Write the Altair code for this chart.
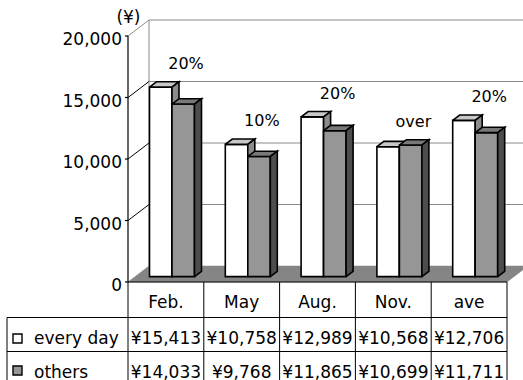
import altair as alt
import pandas as pd

# ---- data ---------------------------------------------------------------
categories = ["Feb.", "May", "Aug.", "Nov.", "ave"]
every_day = [15413, 10758, 12989, 10568, 12706]
others = [14033, 9768, 11865, 10699, 11711]
series_names = ["every day", "others"]
notes = ["20%", "10%", "20%", "over", "20%"]
value_ticks = [0, 5000, 10000, 15000, 20000]
unit_text = "(¥)"

# ---- layout (pixels) ----------------------------------------------------
W, H = 523, 380
AXIS_PX = 128.0          # x of the value axis / front-left corner
FLOOR_PX = 282.0         # y of the front floor edge (value 0)
SLOT_PX = 75.8           # width of one category column
PX_PER_YEN = 61.5 / 5000
DEPTH_RIGHT_PX = 21.0    # oblique depth of the box
DEPTH_UP_PX = 16.0
TABLE_LEFT_PX = 7.0
ROW_TOPS_PX = [282.0, 317.5, 351.5, 386.0]
FONT = "DejaVu Sans"
EDGE_W = 1.6             # outline width of the bar faces


def to_x(px):
    return (px - AXIS_PX) / SLOT_PX


def to_y(py):
    return (FLOOR_PX - py) / PX_PER_YEN


N = len(categories)
TOP = value_ticks[-1]
DX = DEPTH_RIGHT_PX / SLOT_PX
DY = DEPTH_UP_PX / PX_PER_YEN
D1X, D1Y = DX / 3, DY / 3          # bars occupy the middle third of the depth
D2X, D2Y = 2 * DX / 3, 2 * DY / 3
BAR_LEFT = 14.5 / SLOT_PX
BAR_W = 22.5 / SLOT_PX

x_scale = alt.Scale(domain=[to_x(0), to_x(W)], nice=False, zero=False)
y_scale = alt.Scale(domain=[to_y(H), to_y(0)], nice=False, zero=False)


def X(f):
    return alt.X(f, type="quantitative", scale=x_scale, axis=None)


def Y(f):
    return alt.Y(f, type="quantitative", scale=y_scale, axis=None)


def rules(df, width=1.0):
    return alt.Chart(df).mark_rule(strokeWidth=width).encode(
        x=X("x"), x2=alt.X2("x2"), y=Y("y"), y2=alt.Y2("y2"),
        stroke=alt.Stroke("c:N", scale=None),
    )


def polygons(shapes, fill, stroke, width=EDGE_W):
    """shapes: list of vertex lists [(x, y), ...]; each drawn as a closed, filled path."""
    rows = []
    for f, pts in enumerate(shapes):
        for k, (x, y) in enumerate(list(pts) + [pts[0]]):
            rows.append(dict(f=f, k=k, x=x, y=y))
    return alt.Chart(pd.DataFrame(rows)).mark_line(
        fill=fill, stroke=stroke, strokeWidth=width, strokeJoin="miter"
    ).encode(x=X("x"), y=Y("y"), detail="f:N", order="k:Q")


layers = []

# floor of the box
layers.append(polygons([[(0, 0), (N, 0), (N + DX, DY), (DX, DY)]],
                       "#858585", "#858585", 0.5))

# back wall gridlines, back-left edge, side-wall tick diagonals
wall_rows = []
for t in value_ticks[1:]:
    wall_rows.append(dict(x=DX, x2=N + DX, y=t + DY, y2=t + DY, c="#8a8a8a"))
wall_rows.append(dict(x=DX, x2=DX, y=DY, y2=TOP + DY, c="#8a8a8a"))
for t in value_ticks[1:]:
    wall_rows.append(dict(x=0, x2=DX, y=t, y2=t + DY,
                          c="#8a8a8a" if t == TOP else "#000000"))
layers.append(rules(pd.DataFrame(wall_rows)))

# value axis line and outer tick stubs
axis_rows = [dict(x=0, x2=0, y=0, y2=TOP, c="#000000")]
for t in value_ticks:
    axis_rows.append(dict(x=to_x(AXIS_PX - 3), x2=0, y=t, y2=t, c="#000000"))
layers.append(rules(pd.DataFrame(axis_rows), 1.2))

# 3-D bars: front, top and side faces, painted series by series
face_colors = [("#ffffff", "#c8c8c8", "#8c8c8c"),
               ("#969696", "#787878", "#4d4d4d")]
for j, vals in enumerate([every_day, others]):
    front, top, side = [], [], []
    for i, v in enumerate(vals):
        xl = i + BAR_LEFT + j * BAR_W
        xr = xl + BAR_W
        front.append(dict(x=xl + D1X, x2=xr + D1X, y=D1Y, y2=v + D1Y))
        top.append([(xl + D1X, v + D1Y), (xr + D1X, v + D1Y),
                    (xr + D2X, v + D2Y), (xl + D2X, v + D2Y)])
        side.append([(xr + D1X, D1Y), (xr + D2X, D2Y),
                     (xr + D2X, v + D2Y), (xr + D1X, v + D1Y)])
    fc, tc, sc = face_colors[j]
    layers.append(
        alt.Chart(pd.DataFrame(front)).mark_rect(
            fill=fc, stroke="#000000", strokeWidth=EDGE_W
        ).encode(x=X("x"), x2=alt.X2("x2"), y=Y("y"), y2=alt.Y2("y2"))
    )
    layers.append(polygons(top, tc, "#000000"))
    layers.append(polygons(side, sc, "#000000"))

# notes above each group
note_df = pd.DataFrame({
    "x": [i + 58 / SLOT_PX for i in range(N)],
    "y": [max(a, b) + D1Y + 18 / PX_PER_YEN for a, b in zip(every_day, others)],
    "t": notes,
})
layers.append(
    alt.Chart(note_df).mark_text(
        font=FONT, fontSize=16, align="center", baseline="alphabetic",
        color="#000000"
    ).encode(x=X("x"), y=Y("y"), text="t:N")
)

# value axis labels and unit
tick_df = pd.DataFrame({"y": value_ticks, "t": [f"{t:,}" for t in value_ticks],
                        "x": [to_x(AXIS_PX - 6)] * len(value_ticks)})
layers.append(
    alt.Chart(tick_df).mark_text(
        font=FONT, fontSize=17, align="right", baseline="middle", dy=4,
        color="#000000"
    ).encode(x=X("x"), y=Y("y"), text="t:N")
)
unit_df = pd.DataFrame({"x": [0.006], "y": [TOP + 18 / PX_PER_YEN], "t": [unit_text]})
layers.append(
    alt.Chart(unit_df).mark_text(
        font=FONT, fontSize=17, align="center", baseline="middle",
        color="#000000"
    ).encode(x=X("x"), y=Y("y"), text="t:N")
)

# data table grid
left = to_x(TABLE_LEFT_PX)
bottom = to_y(H + 10)
grid_rows = [dict(x=0, x2=N, y=to_y(ROW_TOPS_PX[0]), y2=to_y(ROW_TOPS_PX[0]), c="#000000")]
for r in ROW_TOPS_PX[1:3]:
    grid_rows.append(dict(x=left, x2=N, y=to_y(r), y2=to_y(r), c="#000000"))
grid_rows.append(dict(x=left, x2=left, y=bottom, y2=to_y(ROW_TOPS_PX[1]), c="#000000"))
for i in range(N + 1):
    grid_rows.append(dict(x=i, x2=i, y=bottom, y2=to_y(ROW_TOPS_PX[0]), c="#000000"))
layers.append(rules(pd.DataFrame(grid_rows)))

# table text: categories, then one row per series
baselines = [ROW_TOPS_PX[k] + 26 for k in range(3)]
cells = []
for i, c in enumerate(categories):
    cells.append(dict(x=i + 0.5, y=to_y(baselines[0]), t=c))
for k, vals in enumerate([every_day, others]):
    for i, v in enumerate(vals):
        cells.append(dict(x=i + 0.5, y=to_y(baselines[k + 1]), t=f"¥{v:,}"))
layers.append(
    alt.Chart(pd.DataFrame(cells)).mark_text(
        font=FONT, fontSize=17, align="center", baseline="alphabetic",
        color="#000000"
    ).encode(x=X("x"), y=Y("y"), text="t:N")
)

# legend keys inside the table
legend_df = pd.DataFrame({
    "x": [to_x(34)] * 2,
    "y": [to_y(baselines[1]), to_y(baselines[2])],
    "t": series_names,
})
layers.append(
    alt.Chart(legend_df).mark_text(
        font=FONT, fontSize=17, align="left", baseline="alphabetic",
        color="#000000"
    ).encode(x=X("x"), y=Y("y"), text="t:N")
)
key_df = pd.DataFrame({
    "x": [to_x(17.5)] * 2,
    "y": [to_y(baselines[1] - 5), to_y(baselines[2] - 7)],
    "fc": [face_colors[0][0], face_colors[1][0]],
})
layers.append(
    alt.Chart(key_df).mark_square(
        size=81, filled=True, stroke="#000000", strokeWidth=1.4, opacity=1
    ).encode(x=X("x"), y=Y("y"), fill=alt.Fill("fc:N", scale=None))
)

chart = alt.layer(*layers).properties(
    width=W, height=H, padding=0, autosize=alt.AutoSizeParams(type="none"),
    background="#ffffff",
).configure_view(stroke=None)

chart.save("out.html", embed_options={"renderer": "svg", "actions": False})
